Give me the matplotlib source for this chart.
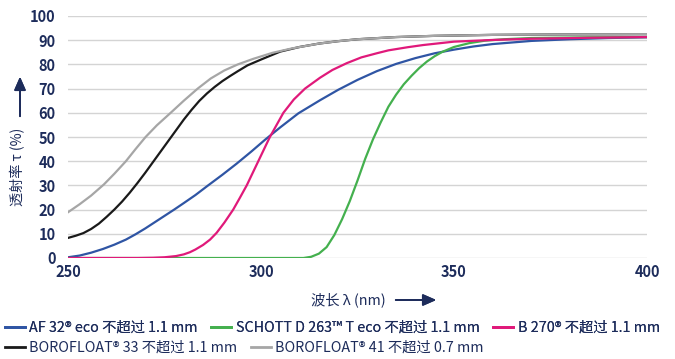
import matplotlib.pyplot as plt
from matplotlib.lines import Line2D

plt.rcParams['font.family'] = ['Noto Sans CJK SC', 'DejaVu Sans']

# Transmission curves (wavelength nm, transmission %)
af32_nm = [250, 253, 256, 259, 262, 265, 267.5, 270, 272.5, 275, 277.5, 280, 283, 286.3, 290,
           293.7, 297.5, 301, 305, 309.7, 315.3, 320, 325, 330, 335, 340, 345, 350, 355, 360,
           370, 380, 390, 400]
af32_t = [0.3, 1.0, 2.2, 3.7, 5.5, 7.6, 9.8, 12.2, 14.8, 17.4, 20.0, 22.7, 26.0, 30.0, 34.4,
          39.0, 44.0, 48.8, 54.0, 59.8, 65.2, 69.5, 73.6, 77.2, 80.2, 82.6, 84.6, 86.1, 87.4,
          88.4, 89.7, 90.4, 90.9, 91.2]

d263_nm = [250, 311, 313, 315, 317, 319, 321, 323, 325, 327, 329, 331, 333, 335, 337, 339, 341,
           343, 345, 347, 350, 354, 358, 363, 370, 385, 400]
d263_t = [0, 0, 0.5, 1.8, 4.5, 9.5, 16.0, 23.5, 32.0, 41.0, 49.0, 56.0, 62.5, 67.5, 71.8, 75.3,
          78.5, 81.2, 83.4, 85.2, 87.2, 88.8, 89.8, 90.4, 90.9, 91.2, 91.3]

b270_nm = [250, 268, 272, 275, 278, 280, 281.6, 283, 285, 286.8, 288.5, 290.5, 292.8, 294.5,
           296.3, 299.3, 302.3, 305.8, 308.5, 311.4, 315.3, 318.5, 322.2, 326, 330, 333, 338,
           342, 350, 360, 370, 385, 400]
b270_t = [0, 0, 0.1, 0.3, 0.8, 1.5, 2.4, 3.5, 5.4, 7.6, 10.4, 14.6, 20.0, 24.8, 30.0, 40.0,
          50.0, 60.0, 65.5, 70.0, 74.5, 77.7, 80.5, 82.9, 84.6, 85.8, 87.1, 88.0, 89.4, 90.1,
          90.6, 91.0, 91.3]

bf33_nm = [250, 252, 254, 256, 258, 260, 262, 264, 266, 268, 270, 272, 274, 276, 278, 280, 282,
           284, 286, 288, 290, 292, 294, 296.5, 300, 305, 310, 315, 320, 325, 335, 345, 360,
           380, 400]
bf33_t = [8.3, 9.2, 10.3, 12.0, 14.2, 17.0, 20.0, 23.3, 27.0, 31.0, 35.2, 39.6, 44.0, 48.4,
          52.8, 57.2, 61.2, 64.9, 68.0, 70.7, 73.1, 75.2, 77.2, 79.6, 82.0, 85.3, 87.2, 88.6,
          89.6, 90.4, 91.3, 91.8, 92.2, 92.4, 92.5]

bf41_nm = [250, 253, 256, 259.3, 262, 265, 267.5, 270.1, 273, 276.6, 280, 283.6, 287, 290.5,
           294, 298, 303, 308, 315, 320, 325, 335, 345, 360, 380, 400]
bf41_t = [18.9, 22.2, 25.8, 30.4, 34.8, 40.0, 45.0, 50.0, 54.8, 60.0, 65.0, 70.0, 74.2, 77.5,
          80.0, 82.3, 84.8, 86.6, 88.6, 89.6, 90.4, 91.3, 91.8, 92.2, 92.4, 92.5]

labels = ['AF 32® eco 不超过 1.1 mm', 'SCHOTT D 263™ T eco 不超过 1.1 mm', 'B 270® 不超过 1.1 mm',
          'BOROFLOAT® 33 不超过 1.1 mm', 'BOROFLOAT® 41 不超过 0.7 mm']
colors = ['#2f55a4', '#44b04e', '#e0197a', '#1a1a1a', '#a6a6a6']

navy = '#1d2c5b'

fig = plt.figure(figsize=(6.75, 3.59), dpi=100)
ax = fig.add_axes([68 / 675, 1 - 258 / 359, 579 / 675, 242 / 359])

series = [(af32_nm, af32_t), (d263_nm, d263_t), (b270_nm, b270_t),
          (bf33_nm, bf33_t), (bf41_nm, bf41_t)]
for (x, y), c in zip(series, colors):
    ax.plot(x, y, color=c, lw=1.6, zorder=3, solid_joinstyle='round')

ax.set_xlim(250, 400)
ax.set_ylim(0, 100)
ax.set_xticks([250, 300, 350, 400])
ax.set_yticks(range(0, 101, 10))
ax.grid(axis='y', color='#d4d4d4', lw=1.0, zorder=0)
ax.set_axisbelow(True)
for s in ax.spines.values():
    s.set_visible(False)
ax.tick_params(length=0, labelsize=10.5, colors=navy)
ax.tick_params(axis='y', pad=9)
ax.tick_params(axis='x', pad=4)
for lab in ax.get_xticklabels() + ax.get_yticklabels():
    lab.set_fontweight('bold')

# axis titles with arrows
fig.text(18 / 675, 1 - 167 / 359, '透射率 τ (%)', rotation=90, ha='center', va='center',
         fontsize=10.2, color=navy)
fig.add_artist(plt.annotate('', xy=(20 / 675, 1 - 74 / 359), xytext=(20 / 675, 1 - 119 / 359),
                            xycoords='figure fraction', textcoords='figure fraction',
                            arrowprops=dict(arrowstyle='-|>,head_length=0.8,head_width=0.35',
                                            color=navy, lw=1.3)))
fig.text(348 / 675, 1 - 300 / 359, '波长 λ (nm)', ha='center', va='center',
         fontsize=10.3, color=navy)
fig.add_artist(plt.annotate('', xy=(439 / 675, 1 - 300 / 359), xytext=(393 / 675, 1 - 300 / 359),
                            xycoords='figure fraction', textcoords='figure fraction',
                            arrowprops=dict(arrowstyle='-|>,head_length=0.8,head_width=0.35',
                                            color=navy, lw=1.3)))

handles = [Line2D([], [], color=c, lw=2) for c in colors]
leg_kw = dict(frameon=False, prop={'size': 10.3}, handlelength=1.4,
              handletextpad=0.3, columnspacing=0.95, borderpad=0, borderaxespad=0,
              labelcolor=navy, loc='center left')
leg1 = fig.legend(handles[:3], labels[:3], ncol=3, bbox_to_anchor=(5 / 675, 1 - 328 / 359),
                  **leg_kw)
fig.legend(handles[3:], labels[3:], ncol=2, bbox_to_anchor=(5 / 675, 1 - 348 / 359), **leg_kw)
fig.add_artist(leg1)

fig.savefig('out.png', dpi=100)
